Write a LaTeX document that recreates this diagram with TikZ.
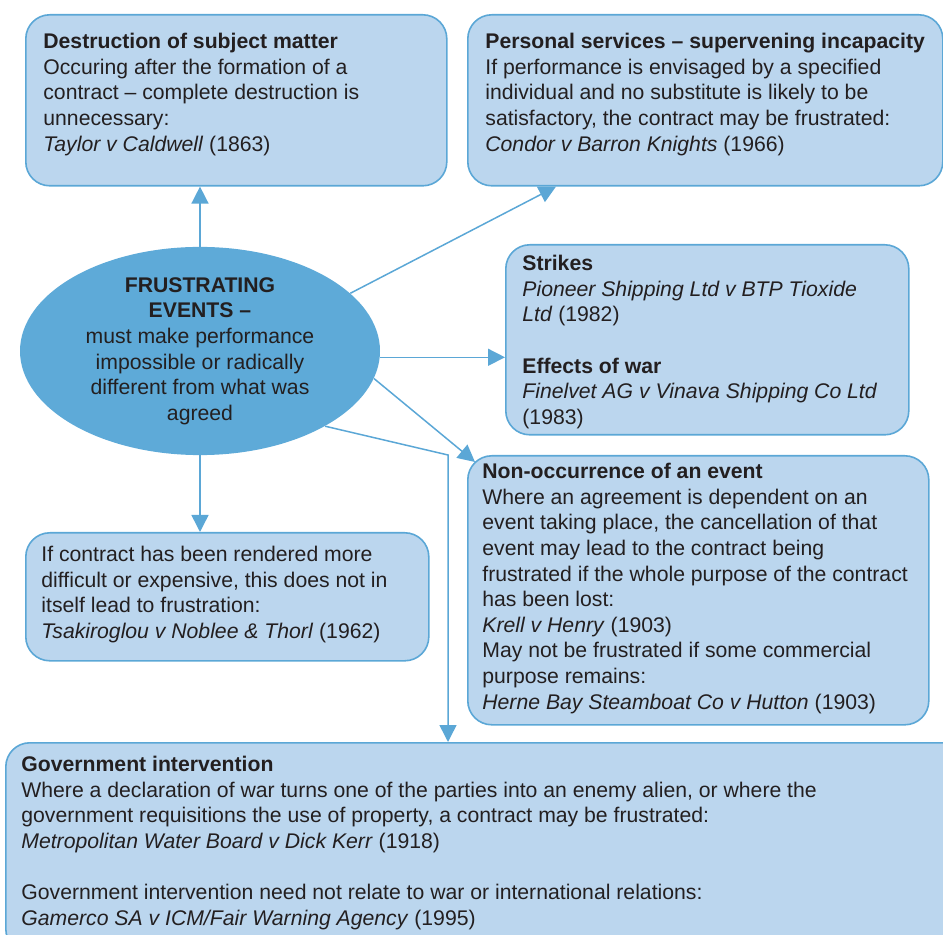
\documentclass[tikz,border=0pt]{standalone}
\usepackage{fontspec}
\setmainfont{Liberation Sans}
\usepackage{xcolor}
\usepackage{tikz}
\usetikzlibrary{positioning, arrows.meta, shapes.geometric, calc}

\definecolor{boxfill}{HTML}{BBD6EE}
\definecolor{boxline}{HTML}{5BA7D6}
\definecolor{ovalfill}{HTML}{5EAAD8}
\definecolor{inktext}{HTML}{231F20}

\begin{document}
\begin{tikzpicture}[
    x=0.5pt, y=-0.5pt,
    casebox/.style={rectangle, draw=boxline, fill=boxfill, line width=0.8pt, rounded corners=12pt, anchor=north west, inner sep=0pt},
    casetext/.style={inner sep=0pt, align=left, text=inktext, font=\fontsize{10.6}{12.8}\selectfont},
    flow/.style={draw=boxline, line width=0.75pt, -{Triangle[length=8.5pt, width=8.5pt]}}
]
\useasboundingbox (0,0) rectangle (943,935);
\clip (0,0) rectangle (943,935);

\node[casebox, minimum width=210.5pt, minimum height=85.5pt] (destr) at (25,14) {};
\node[casebox, minimum width=237.5pt, minimum height=85.5pt] (personal) at (467,14) {};
\node[casebox, minimum width=201.5pt, minimum height=95pt] (strikes) at (505,244) {};
\node[casebox, minimum width=230.5pt, minimum height=134.5pt] (nonocc) at (467,455) {};
\node[casebox, minimum width=201.5pt, minimum height=64pt] (harder) at (25,532) {};
\node[casebox, minimum width=480pt, minimum height=105pt] (govt) at (5,742) {};

\node[ellipse, fill=ovalfill, minimum width=180pt, minimum height=103pt, inner sep=0pt,
      align=center, text=inktext, font=\fontsize{10.6}{12.8}\selectfont] (events) at (200,351)
    {\textbf{FRUSTRATING}\\\textbf{EVENTS –}\\must make performance\\impossible or radically\\different from what was\\agreed};

\node[casetext, below right=9.5pt and 9pt of destr.north west] (destrtxt)
    {\textbf{Destruction of subject matter}\\Occuring after the formation of a\\contract – complete destruction is\\unnecessary:\\\textit{Taylor v Caldwell} (1863)};
\node[casetext, below right=9.5pt and 9pt of personal.north west] (personaltxt)
    {\textbf{Personal services – supervening incapacity}\\If performance is envisaged by a specified\\individual and no substitute is likely to be\\satisfactory, the contract may be frustrated:\\\textit{Condor v Barron Knights} (1966)};
\node[casetext, below right=5.5pt and 8.5pt of strikes.north west] (strikestxt)
    {\textbf{Strikes}\\\textit{Pioneer Shipping Ltd v BTP Tioxide}\\\textit{Ltd} (1982)\\[12.8pt]\textbf{Effects of war}\\\textit{Finelvet AG v Vinava Shipping Co Ltd}\\(1983)};
\node[casetext, below right=4pt and 7.5pt of nonocc.north west] (nonocctxt)
    {\textbf{Non-occurrence of an event}\\Where an agreement is dependent on an\\event taking place, the cancellation of that\\event may lead to the contract being\\frustrated if the whole purpose of the contract\\has been lost:\\\textit{Krell v Henry} (1903)\\May not be frustrated if some commercial\\purpose remains:\\\textit{Herne Bay Steamboat Co v Hutton} (1903)};
\node[casetext, below right=7pt and 8pt of harder.north west] (hardertxt)
    {If contract has been rendered more\\difficult or expensive, this does not in\\itself lead to frustration:\\\textit{Tsakiroglou v Noblee \& Thorl} (1962)};
\node[casetext, below right=7pt and 8pt of govt.north west] (govttxt)
    {\textbf{Government intervention}\\Where a declaration of war turns one of the parties into an enemy alien, or where the\\government requisitions the use of property, a contract may be frustrated:\\\textit{Metropolitan Water Board v Dick Kerr} (1918)\\[12.8pt]Government intervention need not relate to war or international relations:\\\textit{Gamerco SA v ICM/Fair Warning Agency} (1995)};

\coordinate (bend) at (448,455);
\draw[flow] (events.north) -- (events.north |- destr.south);
\draw[flow] (events.21.5) -- ($(personal.south west)+(89,0)$);
\draw[flow] (events.-2.5) -- (events.-2.5 -| strikes.west);
\draw[flow] (events.-9) -- ($(nonocc.north west)+(8,7)$);
\draw[flow] (events.-31.6) -- (bend) -- (bend |- govt.north);
\draw[flow] (events.south) -- (events.south |- harder.north);
\end{tikzpicture}
\end{document}
